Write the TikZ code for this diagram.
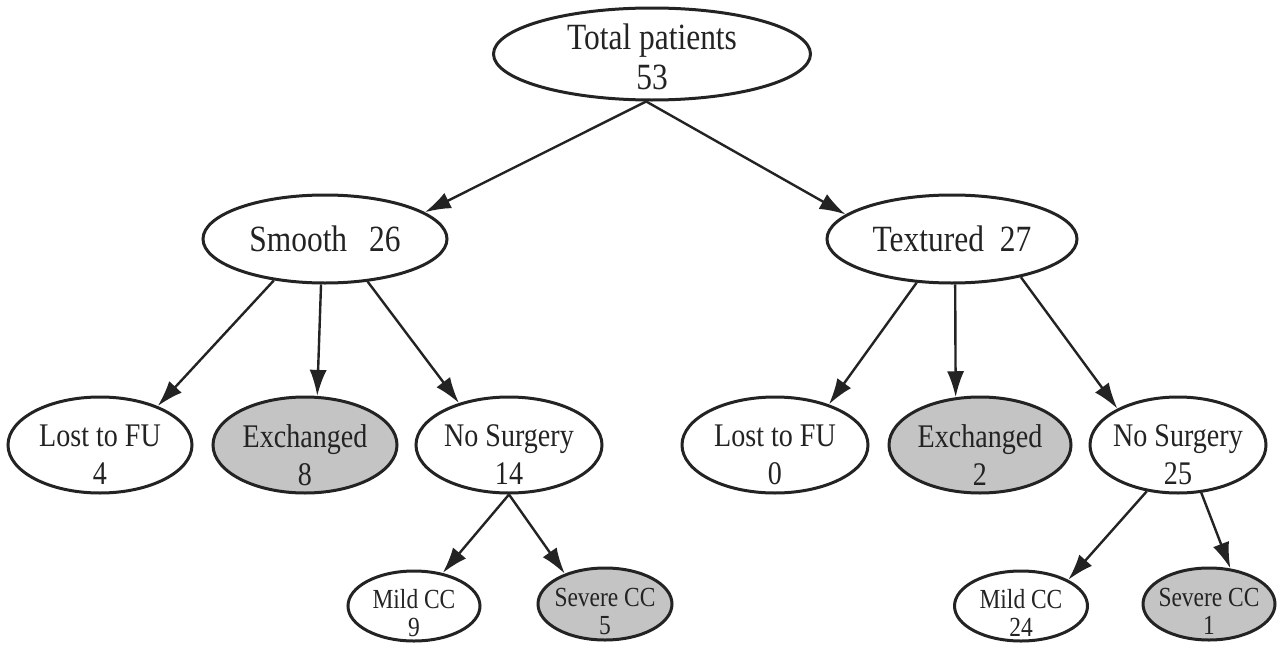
\documentclass[tikz,border=0pt]{standalone}
\usepackage{fontspec}
\setmainfont{Liberation Serif}[FakeStretch=0.85]
\usetikzlibrary{shapes.geometric,arrows.meta}
\definecolor{ink}{RGB}{35,35,35}
\definecolor{shade}{RGB}{196,196,196}
\tikzset{
  el/.style={draw=ink, ellipse, line width=1.5pt, inner sep=0pt, fill=white},
  gr/.style={el, fill=shade},
  bigtxt/.style={align=center, text=ink, font=\fontsize{18.5}{20}\selectfont, inner sep=0pt},
  midtxt/.style={align=center, text=ink, font=\fontsize{16.5}{19}\selectfont, inner sep=0pt},
  smltxt/.style={align=center, text=ink, font=\fontsize{13.8}{14}\selectfont, inner sep=0pt},
  arr/.style={draw=ink, line width=1.2pt, -{Latex[length=13pt,width=8.5pt]}},
}
\begin{document}
\begin{tikzpicture}[x=0.5pt, y=-0.5pt]
\useasboundingbox[fill=white] (0,0) rectangle (1280,648);
% level 0
\node[el, minimum width=158.5pt, minimum height=46pt,
  label={[bigtxt, name=totT, yshift=-1.5pt]center:{Total patients\\53}}] (tot) at (652,54) {};
% level 1
\node[el, minimum width=122pt, minimum height=44pt,
  label={[bigtxt, name=smoothT]center:{Smooth\hspace{11pt}26}}] (smooth) at (325,239) {};
\node[el, minimum width=125pt, minimum height=44pt,
  label={[bigtxt, name=texturedT]center:{Textured\hspace{8pt}27}}] (textured) at (952,239) {};
% level 2 left
\node[el, minimum width=92pt, minimum height=48pt,
  label={[midtxt, name=lostLT, yshift=-5pt]center:{Lost to FU\\4}}] (lostL) at (100,445) {};
\node[gr, minimum width=92pt, minimum height=48pt,
  label={[midtxt, name=exchLT, yshift=-5pt]center:{Exchanged\\8}}] (exchL) at (305,445) {};
\node[el, minimum width=93pt, minimum height=48pt,
  label={[midtxt, name=nosurgLT, yshift=-5pt]center:{No Surgery\\14}}] (nosurgL) at (509,445) {};
% level 2 right
\node[el, minimum width=93pt, minimum height=48pt,
  label={[midtxt, name=lostRT, yshift=-5pt]center:{Lost to FU\\0}}] (lostR) at (775,445) {};
\node[gr, minimum width=91pt, minimum height=48pt,
  label={[midtxt, name=exchRT, yshift=-5pt]center:{Exchanged\\2}}] (exchR) at (980,445) {};
\node[el, minimum width=88pt, minimum height=48pt,
  label={[midtxt, name=nosurgRT, yshift=-5pt]center:{No Surgery\\25}}] (nosurgR) at (1178,445) {};
% level 3
\node[el, minimum width=66pt, minimum height=35pt,
  label={[smltxt, name=mildLT, yshift=-3.5pt]center:{Mild CC\\9}}] (mildL) at (414,606) {};
\node[gr, minimum width=67pt, minimum height=36pt,
  label={[smltxt, name=sevLT, yshift=-3.5pt]center:{Severe CC\\5}}] (sevL) at (605,604) {};
\node[el, minimum width=66.5pt, minimum height=35pt,
  label={[smltxt, name=mildRT, yshift=-3.5pt]center:{Mild CC\\24}}] (mildR) at (1021,606) {};
\node[gr, minimum width=66pt, minimum height=36pt,
  label={[smltxt, name=sevRT, yshift=-3.5pt]center:{Severe CC\\1}}] (sevR) at (1209,604) {};
% connectors
\draw[arr] (tot.-97) -- (smooth.15);
\draw[arr] (tot.-97) -- (textured.167);
\draw[arr] (smooth.-141) -- (lostL.34);
\draw[arr] (smooth.-95) -- (exchL.76);
\draw[arr] (smooth.-45) -- (nosurgL.140);
\draw[arr] (textured.-129) -- (lostR.37);
\draw[arr] (textured.-86) -- (exchR.117);
\draw[arr] (textured.-29) -- (nosurgR.149);
\draw[arr] (nosurgL.-90) -- (mildL.49);
\draw[arr] (nosurgL.-90) -- (sevL.143);
\draw[arr] (nosurgR.-124) -- (mildR.29);
\draw[arr] (nosurgR.-64) -- (sevR.59);
\end{tikzpicture}
\end{document}
